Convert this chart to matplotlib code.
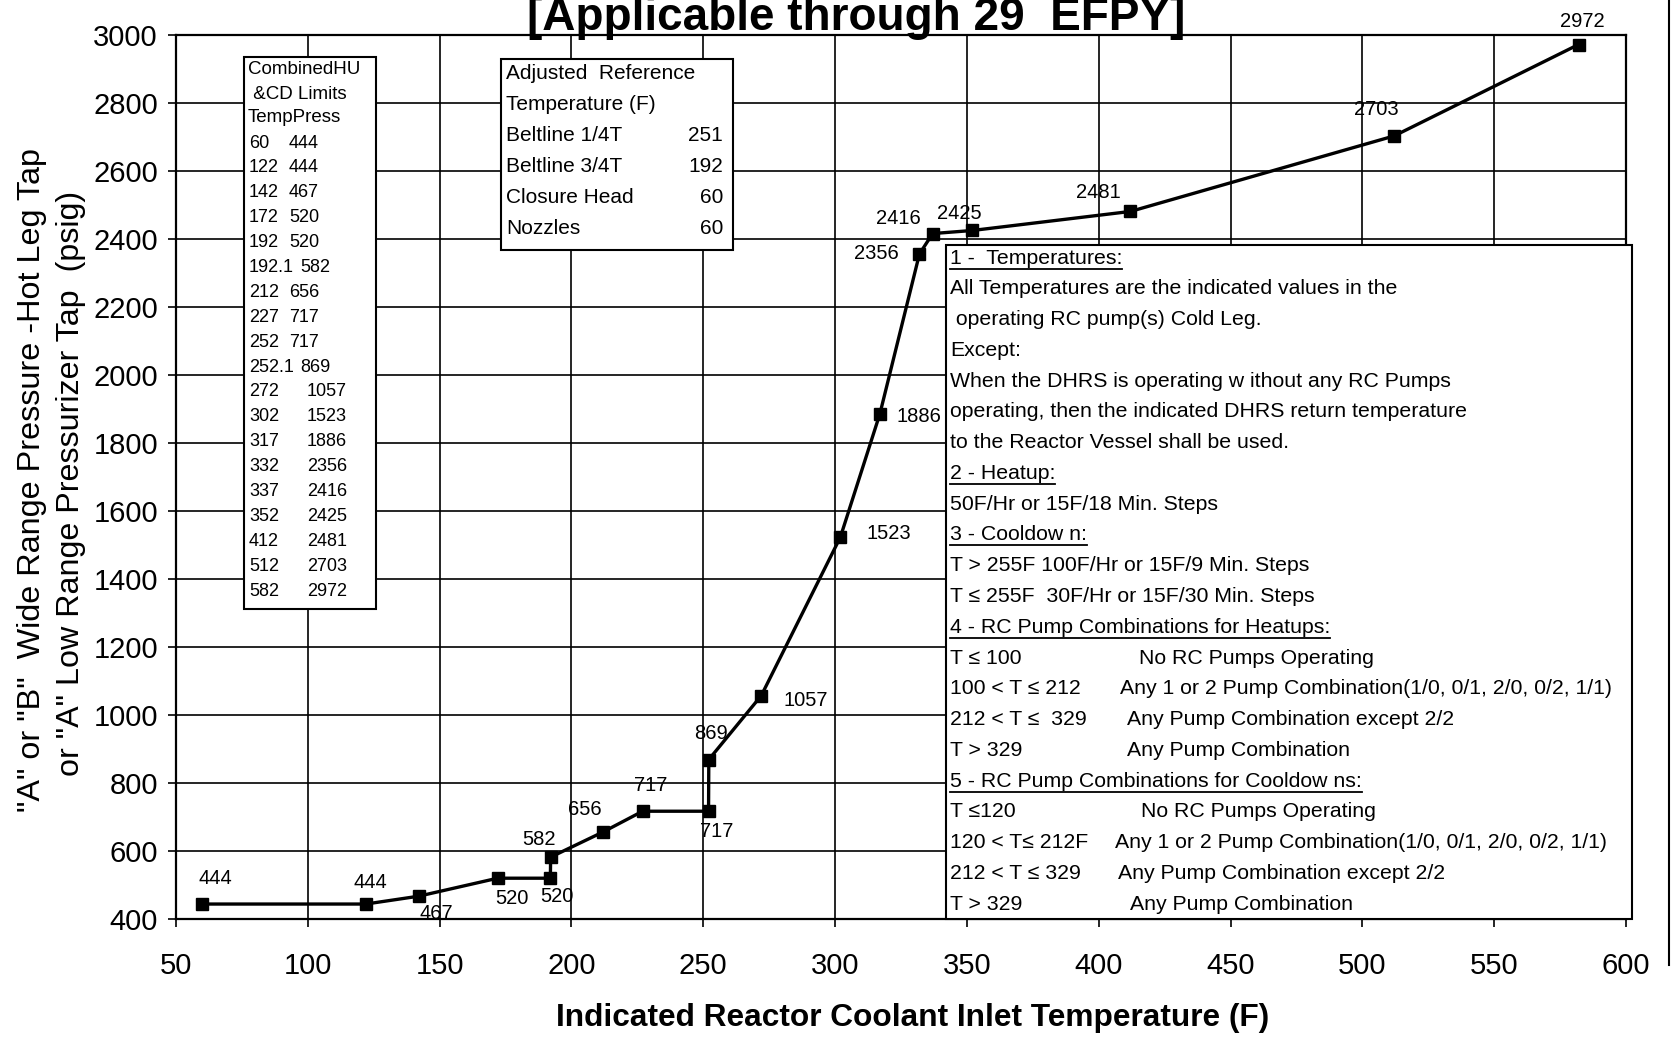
import matplotlib
matplotlib.use("Agg")
import matplotlib.pyplot as plt
from matplotlib.patches import Rectangle
from matplotlib.lines import Line2D

# combined heatup / cooldown limit curve
temps = [60, 122, 142, 172, 192, 192.1, 212, 227, 252, 252.1, 272, 302, 317, 332, 337, 352, 412, 512, 582]
press = [444, 444, 467, 520, 520, 582, 656, 717, 717, 869, 1057, 1523, 1886, 2356, 2416, 2425, 2481, 2703, 2972]
temp_txt = ["60", "122", "142", "172", "192", "192.1", "212", "227", "252", "252.1", "272", "302", "317",
            "332", "337", "352", "412", "512", "582"]

# label offsets (pixels) for each point label
lbl_off = [(13, 26), (5, 22), (18, -17), (14, -20), (7, -18), (-12, 18), (-18, 22), (8, 26), (8, -20),
           (2, 26), (44, -5), (48, 4), (39, -3), (-43, 0), (-34, 15), (-13, 17), (-32, 19), (-18, 26), (4, 23)]

ref_names = ["Beltline 1/4T", "Beltline 3/4T", "Closure Head", "Nozzles"]
ref_vals = ["251", "192", "60", "60"]

notes = [
    ("1 -  Temperatures:", "", True),
    ("All Temperatures are the indicated values in the", "", False),
    (" operating RC pump(s) Cold Leg.", "", False),
    ("Except:", "", False),
    ("When the DHRS is operating w ithout any RC Pumps", "", False),
    ("operating, then the indicated DHRS return temperature", "", False),
    ("to the Reactor Vessel shall be used.", "", False),
    ("2 - Heatup:", "", True),
    ("50F/Hr or 15F/18 Min. Steps", "", False),
    ("3 - Cooldow n:", "", True),
    ("T > 255F 100F/Hr or 15F/9 Min. Steps", "", False),
    ("T \u2264 255F  30F/Hr or 15F/30 Min. Steps", "", False),
    ("4 - RC Pump Combinations for Heatups:", "", True),
    ("T \u2264 100", "No RC Pumps Operating", False),
    ("100 < T \u2264 212", "Any 1 or 2 Pump Combination(1/0, 0/1, 2/0, 0/2, 1/1)", False),
    ("212 < T \u2264  329", "Any Pump Combination except 2/2", False),
    ("T > 329", "Any Pump Combination", False),
    ("5 - RC Pump Combinations for Cooldow ns:", "", True),
    ("T \u2264120", "No RC Pumps Operating", False),
    ("120 < T\u2264 212F", "Any 1 or 2 Pump Combination(1/0, 0/1, 2/0, 0/2, 1/1)", False),
    ("212 < T \u2264 329", "Any Pump Combination except 2/2", False),
    ("T > 329", "Any Pump Combination", False),
]
col2_x = [0, 0, 0, 0, 0, 0, 0, 0, 0, 0, 0, 0, 0, 1139, 1120, 1127, 1127, 0, 1141, 1115, 1118, 1130]

plt.rcParams['font.family'] = ['Liberation Sans', 'DejaVu Sans']
W, H = 1672, 1042
fig = plt.figure(figsize=(W / 100, H / 100), dpi=100)
ax = fig.add_axes([176 / W, 1 - 919 / H, 1450 / W, 884 / H])


def fx(px):
    return px / W


def fy(py):
    return 1 - py / H


ax.plot(temps, press, color='black', lw=2.4, marker='s', ms=8, zorder=5, clip_on=False)
for t, p, o in zip(temps, press, lbl_off):
    ax.annotate(str(p), (t, p), xytext=o, textcoords='offset pixels', ha='center', va='center',
                fontsize=14.5, zorder=6)

ax.set_xlim(50, 600)
ax.set_ylim(400, 3000)
ax.set_xticks(range(50, 601, 50))
ax.set_yticks(range(400, 3001, 200))
ax.grid(True, color='black', lw=1.2)
ax.tick_params(axis='both', direction='out', length=6, width=1.2, labelsize=21, color='black')
ax.tick_params(axis='x', pad=18)
ax.tick_params(axis='y', pad=7)
for s in ax.spines.values():
    s.set_linewidth(1.6)

fig.text(fx(913), fy(1018), "Indicated Reactor Coolant Inlet Temperature (F)", ha='center', va='center',
         fontsize=22.8, fontweight='bold')
fig.text(fx(32), fy(480), '"A" or "B"  Wide Range Pressure -Hot Leg Tap', rotation=90,
         ha='center', va='center', fontsize=23.3)
fig.text(fx(71), fy(483), 'or "A" Low Range Pressurizer Tap  (psig)', rotation=90,
         ha='center', va='center', fontsize=23.2)
fig.text(fx(856), fy(30), "[Applicable through 29  EFPY]", ha='center', va='baseline',
         fontsize=33, fontweight='bold')

# box 1: combined limits table
fig.add_artist(Rectangle((fx(244), fy(609)), fx(376) - fx(244), fy(57) - fy(609), transform=fig.transFigure,
                         facecolor='white', edgecolor='black', lw=1.5, zorder=3))
for i, s in enumerate(["CombinedHU", " &CD Limits", "TempPress"]):
    fig.text(fx(248), fy(70 + 24 * i), s, ha='left', va='center', fontsize=13.5, zorder=4)
for i, (t, p) in enumerate(zip(temp_txt, press)):
    y = fy(143 + 24.9 * i)
    fig.text(fx(249), y, t, ha='left', va='center', fontsize=13, zorder=4)
    if p >= 1000:
        px = 307
    elif '.' in t:
        px = 300
    else:
        px = 289
    fig.text(fx(px), y, str(p), ha='left', va='center', fontsize=13, zorder=4)

# box 2: adjusted reference temperature
fig.add_artist(Rectangle((fx(501), fy(249.5)), fx(732.5) - fx(501), fy(58.6) - fy(249.5),
                         transform=fig.transFigure, facecolor='white', edgecolor='black', lw=1.5, zorder=3))
fig.text(fx(506), fy(73.6), "Adjusted  Reference", ha='left', va='center', fontsize=15, zorder=4)
fig.text(fx(506), fy(104.5), "Temperature (F)", ha='left', va='center', fontsize=15, zorder=4)
for i, (n, v) in enumerate(zip(ref_names, ref_vals)):
    y = fy(135.4 + 30.9 * i)
    fig.text(fx(506), y, n, ha='left', va='center', fontsize=15, zorder=4)
    fig.text(fx(723), y, v, ha='right', va='center', fontsize=15, zorder=4)

# box 3: notes
fig.add_artist(Rectangle((fx(946), fy(919)), fx(1632) - fx(946), fy(245) - fy(919),
                         transform=fig.transFigure, facecolor='white', edgecolor='black', lw=1.5, zorder=3))
heads = []
for i, ((a, b, u), cx) in enumerate(zip(notes, col2_x)):
    y = fy(258 + 30.77 * i)
    t = fig.text(fx(950), y, a, ha='left', va='center', fontsize=15.3, zorder=4)
    if b:
        fig.text(fx(cx), y, b, ha='left', va='center', fontsize=15.3, zorder=4)
    if u:
        heads.append(t)

fig.canvas.draw()
r = fig.canvas.get_renderer()
for t in heads:
    bb = t.get_window_extent(r)
    fig.add_artist(Line2D([bb.x0 / W, bb.x1 / W], [(bb.y0 - 1) / H, (bb.y0 - 1) / H],
                          transform=fig.transFigure, color='black', lw=1.3, zorder=4))

# page edge from the scan
fig.add_artist(Line2D([fx(1669), fx(1669)], [fy(965), fy(0)], transform=fig.transFigure, color='black', lw=1.5))

fig.savefig("out.png", dpi=100)
